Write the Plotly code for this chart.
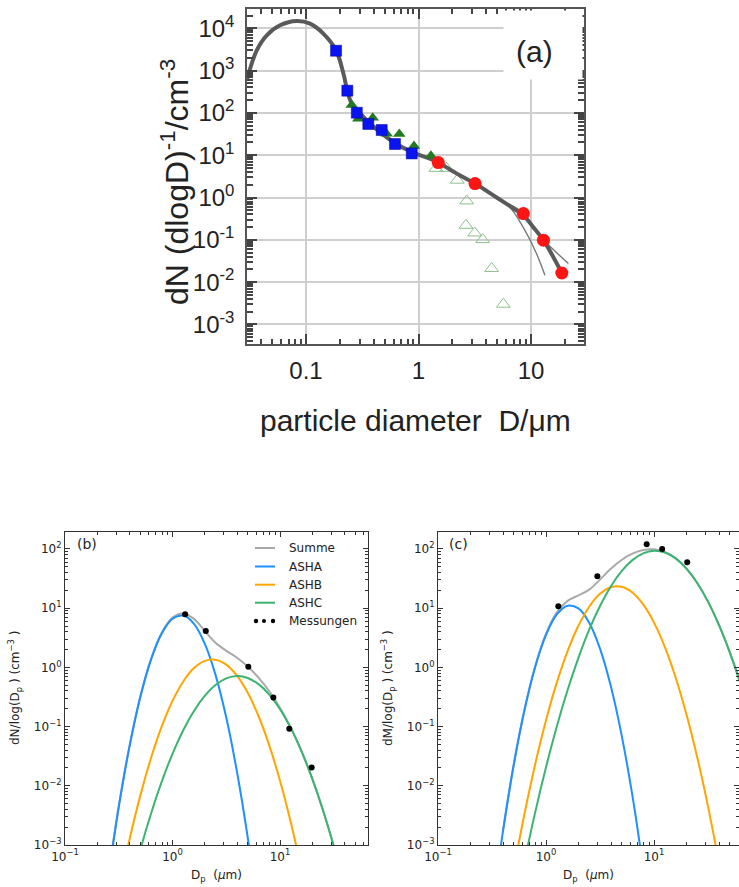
import plotly.graph_objects as go

# ---------------- Panel (a) data ----------------
fit_D = [0.030, 0.0365, 0.0448, 0.0588, 0.0826, 0.1086, 0.1426, 0.185, 0.215, 0.233, 0.255, 0.30, 0.37,
         0.597, 0.871, 1.26, 1.5, 2.19, 3.18, 4.95, 7.0, 8.55, 10.4, 12.9, 18.8]
fit_N = [640, 3020, 6840, 11800, 14900, 12900, 7500, 3020, 850, 330, 166, 100, 56,
         20.5, 11.9, 8.3, 6.7, 3.67, 2.14, 1.0, 0.55, 0.38, 0.204, 0.098, 0.0164]
thin_lo_D = [1.5, 2.19, 3.18, 4.95, 6.5, 9.17, 11.2, 13.3]
thin_lo_N = [6.7, 3.67, 2.14, 1.0, 0.59, 0.14, 0.047, 0.0145]
thin_hi_D = [1.5, 2.19, 3.18, 4.95, 8.55, 10.4, 12.9, 21.5]
thin_hi_N = [6.7, 3.67, 2.14, 1.0, 0.43, 0.204, 0.10, 0.0275]
sq_D = [0.185, 0.233, 0.283, 0.358, 0.471, 0.618, 0.871]
sq_N = [2950, 335, 101, 54.7, 39.4, 18.4, 11.0]
tri_D = [0.255, 0.292, 0.392, 0.521, 0.675, 0.912, 1.29]
tri_N = [154, 73, 77, 32, 31.6, 16.6, 9.7]
circ_D = [1.5, 3.18, 8.55, 12.9, 18.8]
circ_N = [6.7, 2.14, 0.417, 0.098, 0.0164]
open_D = [1.43, 1.78, 2.21, 2.68, 2.64, 3.16, 3.72, 4.47, 5.68]
open_N = [4.9, 4.9, 2.57, 0.83, 0.22, 0.145, 0.101, 0.021, 0.003]
a_xticks = [0.1, 1, 10]
a_xticktext = ["0.1", "1", "10"]
a_yticks = [1e-3, 1e-2, 1e-1, 1, 10, 100, 1e3, 1e4]
a_yticktext = ["10<sup>-3</sup>", "10<sup>-2</sup>", "10<sup>-1</sup>", "10<sup>0</sup>",
               "10<sup>1</sup>", "10<sup>2</sup>", "10<sup>3</sup>", "10<sup>4</sup>"]

# ---------------- Panel (b) data ----------------
b_sum_D = [0.251, 0.316, 0.398, 0.501, 0.631, 0.794, 1.0, 1.259, 1.585, 1.995, 2.512, 3.162, 3.981,
           5.012, 6.31, 7.943, 10.0, 12.59, 15.85, 19.95, 25.12, 31.62, 39.81]
b_sum_N = [2.8e-4, 4.53e-3, 0.0472, 0.3186, 1.383, 3.842, 6.93, 8.16, 6.6, 4.14, 2.6, 1.906, 1.454,
           1.035, 0.672, 0.396, 0.2087, 0.0966, 0.0387, 0.0132, 3.86e-3, 9.6e-4, 2.0e-4]
b_asha_D = [0.251, 0.316, 0.398, 0.501, 0.631, 0.794, 1.0, 1.259, 1.585, 1.995, 2.512, 3.162, 3.981, 5.012, 6.31]
b_asha_N = [2.61e-4, 4.33e-3, 0.0458, 0.311, 1.35, 3.73, 6.62, 7.5, 5.44, 2.52, 0.747, 0.142, 0.0171, 1.33e-3, 6.6e-5]
b_ashb_D = [0.316, 0.398, 0.501, 0.631, 0.794, 1.0, 1.259, 1.585, 1.995, 2.512, 3.162, 3.981, 5.012,
            6.31, 7.943, 10.0, 12.59, 15.85]
b_ashb_N = [1.76e-4, 1.23e-3, 6.76e-3, 0.0294, 0.1005, 0.272, 0.578, 0.973, 1.288, 1.349, 1.113, 0.724, 0.372,
            0.151, 0.0482, 0.01216, 2.42e-3, 3.8e-4]
b_ashc_D = [0.398, 0.501, 0.631, 0.794, 1.0, 1.259, 1.585, 1.995, 2.512, 3.162, 3.981, 5.012, 6.31,
            7.943, 10.0, 12.59, 15.85, 19.95, 25.12, 31.62, 39.81]
b_ashc_N = [1.7e-4, 8.24e-4, 3.38e-3, 0.01178, 0.0347, 0.0868, 0.184, 0.330, 0.504, 0.651, 0.713, 0.662, 0.521,
            0.3475, 0.1965, 0.0942, 0.0383, 0.0132, 3.86e-3, 9.57e-4, 2.0e-4]
b_mess_D = [1.31, 2.04, 5.07, 8.67, 12.2, 19.7]
b_mess_N = [7.9, 4.1, 1.03, 0.31, 0.092, 0.0203]

# ---------------- Panel (c) data ----------------
c_sum_D = [0.398, 0.501, 0.631, 0.794, 1.0, 1.259, 1.585, 1.995, 2.512, 3.162, 3.981, 5.012, 6.31,
           7.943, 10.0, 12.59, 15.85, 19.95, 25.12, 31.62, 39.81, 50.12, 63.1, 79.43]
c_sum_M = [1.64e-3, 0.0222, 0.190, 1.044, 3.68, 8.48, 13.3, 16.4, 20.6, 30.4, 46.4, 65.3, 83.3,
           96.1, 98.9, 89.5, 70.0, 46.8, 26.6, 12.9, 5.27, 1.83, 0.54, 0.135]
c_asha_D = [0.316, 0.398, 0.501, 0.631, 0.794, 1.0, 1.259, 1.585, 1.995, 2.512, 3.162, 3.981, 5.012, 6.31, 7.943]
c_asha_M = [7.7e-5, 1.63e-3, 0.0218, 0.187, 1.017, 3.53, 7.83, 11.04, 9.93, 5.70, 2.08, 0.485, 0.0719, 6.81e-3, 4.1e-4]
c_ashb_D = [0.398, 0.501, 0.631, 0.794, 1.0, 1.259, 1.585, 1.995, 2.512, 3.162, 3.981, 5.012, 6.31,
            7.943, 10.0, 12.59, 15.85, 19.95, 25.12, 31.62, 39.81]
c_ashb_M = [3.25e-5, 3.7e-4, 3.3e-3, 0.0232, 0.128, 0.553, 1.884, 5.04, 10.59, 17.46, 22.6, 23.0, 18.45,
            11.59, 5.71, 2.22, 0.676, 0.162, 0.0304, 4.5e-3, 5.2e-4]
c_ashc_D = [0.501, 0.631, 0.794, 1.0, 1.259, 1.585, 1.995, 2.512, 3.162, 3.981, 5.012, 6.31, 7.943,
            10.0, 12.59, 15.85, 19.95, 25.12, 31.62, 39.81, 50.12, 63.1, 79.43]
c_ashc_M = [6.6e-5, 5.2e-4, 3.56e-3, 0.0205, 0.1, 0.414, 1.45, 4.33, 10.89, 23.3, 42.2, 64.9, 84.5,
            93.3, 87.3, 69.3, 46.6, 26.6, 12.9, 5.27, 1.83, 0.54, 0.135]
c_mess_D = [1.3, 2.99, 8.55, 11.9, 20.3]
c_mess_M = [10.8, 34.7, 120, 100, 59.6]

bc_xticks = [0.1, 1, 10]
bc_xticktext = ["10<sup>−1</sup>", "10<sup>0</sup>", "10<sup>1</sup>"]
bc_yticks = [1e-3, 1e-2, 1e-1, 1, 10, 100]
bc_yticktext = ["10<sup>−3</sup>", "10<sup>−2</sup>", "10<sup>−1</sup>", "10<sup>0</sup>",
                "10<sup>1</sup>", "10<sup>2</sup>"]
legend_names = ["Summe", "ASHA", "ASHB", "ASHC", "Messungen"]

C_SUM, C_A, C_B, C_C = "#a9a9a9", "#1e90ff", "#ffa500", "#3cb371"

W, H = 739, 887
def px(x):
    return x / W
def py(y):
    return 1 - y / H

def minor_vals(lo, hi):
    out = []
    for e in range(lo, hi + 1):
        for m in range(2, 10):
            out.append(m * 10.0 ** e)
    return out

fig = go.Figure()

def add(x, y, xa, ya, **kw):
    fig.add_trace(go.Scatter(x=x, y=y, xaxis=xa, yaxis=ya, showlegend=False, hoverinfo="skip", **kw))

# ---- panel (a)
add(open_D, open_N, "x", "y", mode="markers",
    marker=dict(symbol="triangle-up-open", size=12, color="#8fbf8f", line=dict(width=1)))
add(thin_lo_D, thin_lo_N, "x", "y", mode="lines", line=dict(color="#7a7a7a", width=1.4, shape="spline"))
add(thin_hi_D, thin_hi_N, "x", "y", mode="lines", line=dict(color="#7a7a7a", width=1.4, shape="spline"))
add(fit_D, fit_N, "x", "y", mode="lines", line=dict(color="#5a5a5a", width=4, shape="spline"))
add(tri_D, tri_N, "x", "y", mode="markers",
    marker=dict(symbol="triangle-up", size=11, color="#237a23"))
add(sq_D, sq_N, "x", "y", mode="markers",
    marker=dict(symbol="square", size=11, color="#0a14f0", line=dict(color="#0000a0", width=0.5)))
add(circ_D, circ_N, "x", "y", mode="markers",
    marker=dict(symbol="circle", size=13, color="#ff1414"))

# ---- panel (b)
add(b_sum_D, b_sum_N, "x2", "y2", mode="lines", line=dict(color=C_SUM, width=2, shape="spline"))
add(b_asha_D, b_asha_N, "x2", "y2", mode="lines", line=dict(color=C_A, width=2, shape="spline"))
add(b_ashb_D, b_ashb_N, "x2", "y2", mode="lines", line=dict(color=C_B, width=2, shape="spline"))
add(b_ashc_D, b_ashc_N, "x2", "y2", mode="lines", line=dict(color=C_C, width=2, shape="spline"))
add(b_mess_D, b_mess_N, "x2", "y2", mode="markers", marker=dict(color="black", size=6))

# ---- panel (c)
add(c_sum_D, c_sum_M, "x3", "y3", mode="lines", line=dict(color=C_SUM, width=2, shape="spline"))
add(c_asha_D, c_asha_M, "x3", "y3", mode="lines", line=dict(color=C_A, width=2, shape="spline"))
add(c_ashb_D, c_ashb_M, "x3", "y3", mode="lines", line=dict(color=C_B, width=2, shape="spline"))
add(c_ashc_D, c_ashc_M, "x3", "y3", mode="lines", line=dict(color=C_C, width=2, shape="spline"))
add(c_mess_D, c_mess_M, "x3", "y3", mode="markers", marker=dict(color="black", size=6))

FA = "Liberation Sans, Arial, sans-serif"
FD = "DejaVu Sans, sans-serif"

a_axis_common = dict(type="log", showline=True, linecolor="#555", linewidth=1.5, mirror="ticks",
                     ticks="inside", ticklen=10, tickwidth=1.5, tickcolor="#444", automargin=False,
                     showgrid=True, gridcolor="#cfcfcf", gridwidth=1.5, zeroline=False,
                     tickmode="array", tickfont=dict(family=FA, size=24, color="#222"))
bc_axis_common = dict(type="log", showline=True, linecolor="#333", linewidth=1.2, mirror="ticks",
                      ticks="inside", ticklen=5, tickwidth=1, tickcolor="#333", automargin=False,
                      showgrid=False, zeroline=False, tickmode="array",
                      tickfont=dict(family=FD, size=12, color="#222"))

fig.update_layout(
    width=W, height=H, margin=dict(l=0, r=0, t=0, b=0, pad=0, autoexpand=False),
    paper_bgcolor="white", plot_bgcolor="white", showlegend=False,
    xaxis=dict(**a_axis_common, domain=[px(247), px(584)], range=[-1.5244, 1.4711], anchor="y",
               tickvals=a_xticks, ticktext=a_xticktext, ticklabelstandoff=4,
               minor=dict(ticks="inside", ticklen=5, tickcolor="#444", tickmode="array",
                          tickvals=minor_vals(-2, 1), showgrid=False)),
    yaxis=dict(**a_axis_common, domain=[py(344), py(9)], range=[-3.463, 4.456], anchor="x",
               tickvals=a_yticks, ticktext=a_yticktext, ticklabelstandoff=6,
               minor=dict(ticks="inside", ticklen=6, tickcolor="#444", tickmode="array",
                          tickvals=minor_vals(-4, 4), showgrid=False)),
    xaxis2=dict(**bc_axis_common, domain=[px(65), px(368)], range=[-1, 1.8186], anchor="y2",
                tickvals=bc_xticks, ticktext=bc_xticktext,
                minor=dict(ticks="inside", ticklen=2.5, tickcolor="#333", tickmode="array",
                           tickvals=minor_vals(-1, 1), showgrid=False)),
    yaxis2=dict(**bc_axis_common, domain=[py(845), py(532)], range=[-3, 2.287], anchor="x2",
                tickvals=bc_yticks, ticktext=bc_yticktext,
                minor=dict(ticks="inside", ticklen=2.5, tickcolor="#333", tickmode="array",
                           tickvals=minor_vals(-3, 2), showgrid=False)),
    xaxis3=dict(**bc_axis_common, domain=[px(438), 1.0], range=[-1, 1.787], anchor="y3",
                tickvals=bc_xticks, ticktext=bc_xticktext,
                minor=dict(ticks="inside", ticklen=2.5, tickcolor="#333", tickmode="array",
                           tickvals=minor_vals(-1, 1), showgrid=False)),
    yaxis3=dict(**bc_axis_common, domain=[py(845), py(532)], range=[-3, 2.287], anchor="x3",
                tickvals=bc_yticks, ticktext=bc_yticktext,
                minor=dict(ticks="inside", ticklen=2.5, tickcolor="#333", tickmode="array",
                           tickvals=minor_vals(-3, 2), showgrid=False)),
)

ann = []
# white box behind (a) label
ann.append(dict(xref="paper", yref="paper", x=px(503), y=py(10), xanchor="left", yanchor="top",
                text=" ", showarrow=False, bgcolor="white", width=78, height=68, borderpad=0,
                font=dict(size=10)))
ann.append(dict(xref="paper", yref="paper", x=px(534), y=py(52), xanchor="center", yanchor="middle",
                text="(a)", showarrow=False, font=dict(family=FA, size=30, color="#222")))
# axis titles (a)
ann.append(dict(xref="paper", yref="paper", x=px(415), y=py(420), xanchor="center", yanchor="middle",
                text="particle diameter\u00a0\u00a0D/μm", showarrow=False,
                font=dict(family=FA, size=30, color="#222")))
ann.append(dict(xref="paper", yref="paper", x=px(175), y=py(182), xanchor="center", yanchor="middle",
                text="dN (dlogD)<sup>-1</sup>/cm<sup>-3</sup>", textangle=-90, showarrow=False,
                font=dict(family=FA, size=32, color="#222")))
# panel labels
ann.append(dict(xref="paper", yref="paper", x=px(75), y=py(544), xanchor="left", yanchor="middle",
                text="(b)", showarrow=False, font=dict(family=FD, size=14, color="#222")))
ann.append(dict(xref="paper", yref="paper", x=px(447), y=py(544), xanchor="left", yanchor="middle",
                text="(c)", showarrow=False, font=dict(family=FD, size=14, color="#222")))
# axis titles (b), (c)
ann.append(dict(xref="paper", yref="paper", x=px(216), y=py(876), xanchor="center", yanchor="middle",
                text="D<sub>p</sub>\u00a0\u00a0(<i>μ</i>m)", showarrow=False,
                font=dict(family=FD, size=12, color="#222")))
ann.append(dict(xref="paper", yref="paper", x=px(588), y=py(876), xanchor="center", yanchor="middle",
                text="D<sub>p</sub>\u00a0\u00a0(<i>μ</i>m)", showarrow=False,
                font=dict(family=FD, size=12, color="#222")))
ann.append(dict(xref="paper", yref="paper", x=px(15), y=py(688), xanchor="center", yanchor="middle",
                text="dN/log(D<sub>p</sub>\u00a0) (cm<sup>−3</sup>\u00a0)", textangle=-90, showarrow=False,
                font=dict(family=FD, size=12, color="#222")))
ann.append(dict(xref="paper", yref="paper", x=px(388), y=py(688), xanchor="center", yanchor="middle",
                text="dM/log(D<sub>p</sub>\u00a0) (cm<sup>−3</sup>\u00a0)", textangle=-90, showarrow=False,
                font=dict(family=FD, size=12, color="#222")))

# custom legend for (b)
shapes = []
leg_y = [548, 566.5, 584.7, 602.7, 621]
leg_col = [C_SUM, C_A, C_B, C_C]
for i, name in enumerate(legend_names):
    ann.append(dict(xref="paper", yref="paper", x=px(287), y=py(leg_y[i]), xanchor="left", yanchor="middle",
                    text=name, showarrow=False, font=dict(family=FD, size=12, color="#222")))
    if i < 4:
        shapes.append(dict(type="line", xref="paper", yref="paper", x0=px(255), x1=px(275),
                           y0=py(leg_y[i]), y1=py(leg_y[i]), line=dict(color=leg_col[i], width=2)))
    else:
        for cx, r in [(256, 2.2), (264, 2.0), (273, 2.2)]:
            shapes.append(dict(type="circle", xref="paper", yref="paper",
                               x0=px(cx - r), x1=px(cx + r), y0=py(leg_y[i] + r), y1=py(leg_y[i] - r),
                               fillcolor="black", line=dict(width=0)))

fig.update_layout(annotations=ann, shapes=shapes)
fig.write_html("out.html")
